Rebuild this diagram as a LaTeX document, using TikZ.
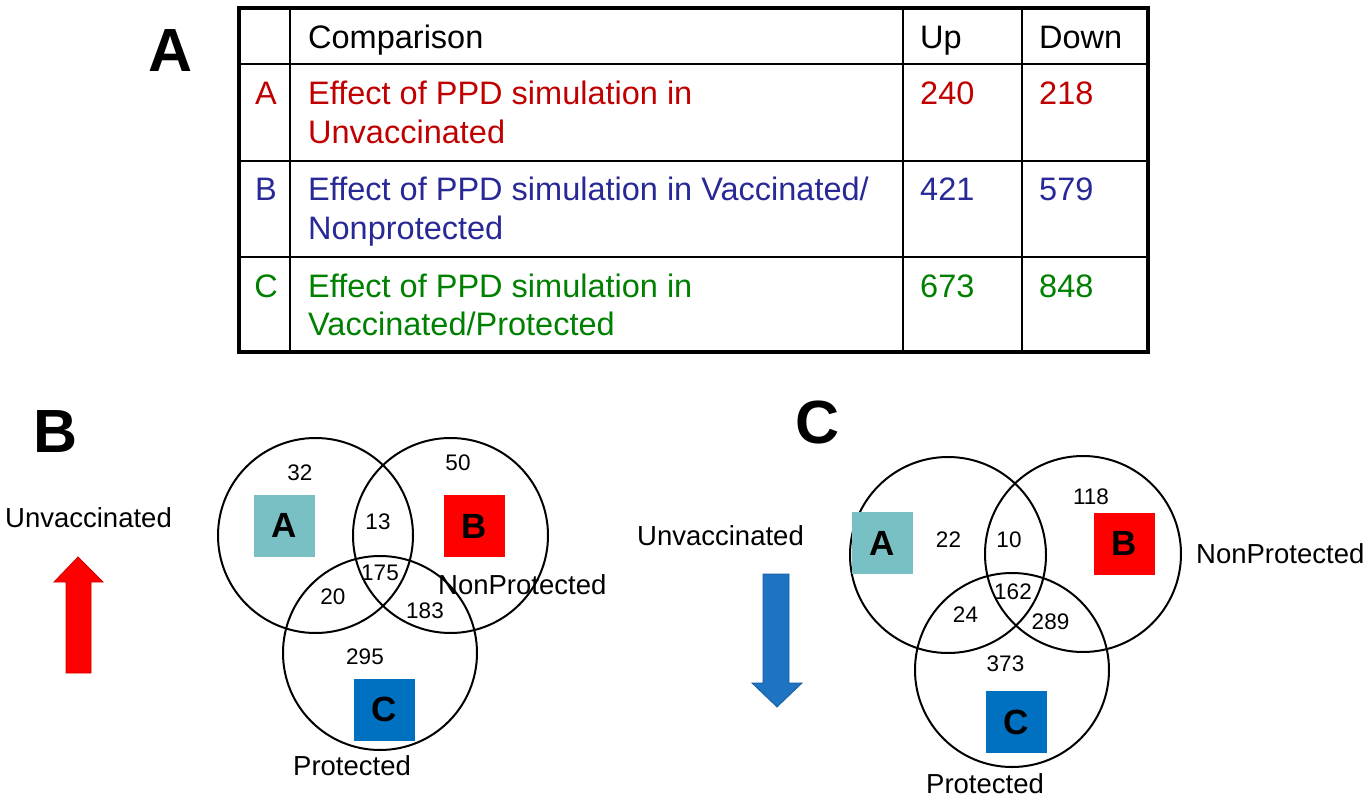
\documentclass[tikz,border=0pt]{standalone}
\usepackage{fontspec}
\setmainfont{Liberation Sans}
\definecolor{rowred}{RGB}{192,0,0}
\definecolor{rowblue}{RGB}{40,40,150}
\definecolor{rowgreen}{RGB}{0,128,0}
\definecolor{tealbox}{RGB}{120,192,196}
\definecolor{bluebox}{RGB}{0,112,192}
\definecolor{arrowblue}{RGB}{30,115,195}
\newcommand{\fs}[1]{\fontsize{#1}{#1}\selectfont}

\begin{document}
\begin{tikzpicture}[x=1pt,y=-1pt,
    cell/.style={anchor=base west,inner sep=0pt,font=\fs{32.5}},
    num/.style={inner sep=0pt,font=\fs{22.5}},
    lbl/.style={anchor=base west,inner sep=0pt,font=\fs{27.5}},
    panel/.style={anchor=base west,inner sep=0pt,font=\bfseries\fs{61}},
    setbox/.style={minimum width=61pt,minimum height=62pt,inner sep=0pt,font=\bfseries\fs{35}},
    venn/.style={line width=2pt}]
    \useasboundingbox (0,0) rectangle (1369,800);
    % table
    \draw[line width=2pt] (290,8)--(290,352) (903,8)--(903,352) (1022,8)--(1022,352);
    \draw[line width=2.5pt] (239,64)--(1148,64) (239,161)--(1148,161) (239,257)--(1148,257);
    \draw[line width=4pt] (239,8) rectangle (1148,351.5);
    \node[panel] (pa) at (148,72) {A};
    \node[cell] (hcmp) at (308,49) {Comparison};
    \node[cell] (hup) at (920,49) {Up};
    \node[cell] (hdown) at (1039,49) {Down};
    \node[cell,rowred,anchor=base] (ra) at (266,105) {A};
    \node[cell,rowred] (ra1) at (308,105) {Effect of PPD simulation in};
    \node[cell,rowred] (ra2) at (308,143) {Unvaccinated};
    \node[cell,rowred] (raup) at (920,105) {240};
    \node[cell,rowred] (radn) at (1039,105) {218};
    \node[cell,rowblue,anchor=base] (rb) at (266,200) {B};
    \node[cell,rowblue] (rb1) at (308,200) {Effect of PPD simulation in Vaccinated/};
    \node[cell,rowblue] (rb2) at (308,239) {Nonprotected};
    \node[cell,rowblue] (rbup) at (920,200) {421};
    \node[cell,rowblue] (rbdn) at (1039,200) {579};
    \node[cell,rowgreen,anchor=base] (rc) at (266,297) {C};
    \node[cell,rowgreen] (rc1) at (308,297) {Effect of PPD simulation in};
    \node[cell,rowgreen] (rc2) at (308,335) {Vaccinated/Protected};
    \node[cell,rowgreen] (rcup) at (920,297) {673};
    \node[cell,rowgreen] (rcdn) at (1039,297) {848};
    % panel B: up
    \node[panel] (pb) at (33,452) {B};
    \node[lbl] (unvacup) at (5,527) {Unvaccinated};
    \draw[fill=red,draw=red!80!black,line width=0.8pt] (66,673)--(66,582)--(54,582)--(78,557)--(103,582)--(91,582)--(91,673)--cycle;
    \draw[venn] (315.5,535.5) circle (97.5pt);
    \draw[venn] (450.5,535.5) circle (97.5pt);
    \draw[venn] (380,653) circle (97pt);
    \node[setbox,fill=tealbox] (ua) at (284.5,525.5) {A};
    \node[setbox,fill=red] (ub) at (474.5,526) {B};
    \node[setbox,fill=bluebox] (uc) at (384.5,709.5) {C};
    \node[num] (u32) at (300,473) {32};
    \node[num] (u50) at (458,463) {50};
    \node[num] (u13) at (378,522) {13};
    \node[num] (u175) at (380,573) {175};
    \node[num] (u20) at (333,597) {20};
    \node[num] (u183) at (425,611) {183};
    \node[num] (u295) at (365,657) {295};
    \node[lbl] (unonp) at (438,594) {NonProtected};
    \node[lbl] (uprot) at (293,775) {Protected};
    % panel C: down
    \node[panel] (pc) at (795,443) {C};
    \node[lbl] (unvacdn) at (637,545) {Unvaccinated};
    \draw[fill=arrowblue,draw=arrowblue!80!black,line width=0.8pt] (763,574)--(789,574)--(789,683)--(802,683)--(777,707)--(752,683)--(763,683)--cycle;
    \draw[venn] (948,555) circle (98pt);
    \draw[venn] (1083,554) circle (98pt);
    \draw[venn] (1012,670) circle (97pt);
    \node[setbox,fill=tealbox] (da) at (882,543) {A};
    \node[setbox,fill=red] (db) at (1124,543.5) {B};
    \node[setbox,fill=bluebox] (dc) at (1016.5,722) {C};
    \node[num] (d118) at (1091,497) {118};
    \node[num] (d22) at (948.5,540) {22};
    \node[num] (d10) at (1009,540) {10};
    \node[num] (d162) at (1013,592) {162};
    \node[num] (d24) at (965.5,615) {24};
    \node[num] (d289) at (1050.5,622) {289};
    \node[num] (d373) at (1005.5,664) {373};
    \node[lbl] (dnonp) at (1196,563) {NonProtected};
    \node[lbl] (dprot) at (926,793) {Protected};
\end{tikzpicture}
\end{document}
